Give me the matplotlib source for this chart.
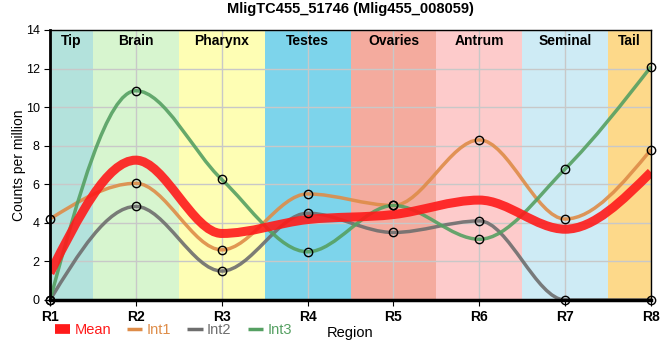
import numpy as np
import matplotlib
matplotlib.use("Agg")
import matplotlib.pyplot as plt
from matplotlib.path import Path
from matplotlib.patches import PathPatch
from matplotlib.lines import Line2D

plt.rcParams['font.family'] = ['Liberation Sans', 'DejaVu Sans']

# data
regions = ['R1', 'R2', 'R3', 'R4', 'R5', 'R6', 'R7', 'R8']
int1 = [4.2, 6.05, 2.6, 5.5, 4.9, 8.3, 4.2, 7.8]
int2 = [0.0, 4.85, 1.5, 4.5, 3.5, 4.1, 0.0, 0.0]
int3 = [0.0, 10.85, 6.25, 2.5, 4.9, 3.15, 6.8, 12.1]
mean = [1.4, 7.25, 3.45, 4.17, 4.43, 5.18, 3.67, 6.63]

band_names = ['Tip', 'Brain', 'Pharynx', 'Testes', 'Ovaries', 'Antrum', 'Seminal', 'Tail']
band_colors = ['#b3e2dc', '#d7f5cf', '#fefeb4', '#7dd4eb', '#f4ab9e', '#fdcbcb', '#ceebf5', '#fdd98a']


def monotone_path(x, y):
    # monotone cubic (Steffen) drawn as bezier segments
    x = np.asarray(x, float)
    y = np.asarray(y, float)
    n = len(x)
    h = np.diff(x)
    s = np.diff(y) / h
    t = np.zeros(n)
    for i in range(1, n - 1):
        p = (s[i - 1] * h[i] + s[i] * h[i - 1]) / (h[i - 1] + h[i])
        t[i] = (np.sign(s[i - 1]) + np.sign(s[i])) * min(abs(s[i - 1]), abs(s[i]), 0.5 * abs(p))
    t[0] = (3 * s[0] - t[1]) / 2 if n > 2 else s[0]
    t[-1] = (3 * s[-1] - t[-2]) / 2 if n > 2 else s[-1]
    verts = [(x[0], y[0])]
    codes = [Path.MOVETO]
    for i in range(n - 1):
        dx = h[i] / 3
        verts += [(x[i] + dx, y[i] + dx * t[i]), (x[i + 1] - dx, y[i + 1] - dx * t[i + 1]), (x[i + 1], y[i + 1])]
        codes += [Path.CURVE4] * 3
    return Path(verts, codes)


fig = plt.figure(figsize=(6.6, 3.6), dpi=100)
ax = fig.add_axes([0.0758, 0.1667, 0.9106, 0.75])
xs = np.arange(len(regions))

for i, (name, c) in enumerate(zip(band_names, band_colors)):
    lo = max(i - 0.5, 0)
    hi = min(i + 0.5, len(regions) - 1)
    ax.axvspan(lo, hi, color=c, zorder=0, lw=0)
    ax.text((lo + hi) / 2, 13.45, name, ha='center', va='center', fontsize=10, fontweight='bold', zorder=5)

ax.set_xlim(0, len(regions) - 1)
ax.set_ylim(0, 14)
ax.set_xticks(xs)
ax.set_xticklabels(regions, fontsize=10, fontweight='bold')
ax.set_yticks(np.arange(0, 15, 2))
ax.tick_params(axis='y', labelsize=9, length=4)
ax.tick_params(axis='x', length=4)
ax.grid(True, color='#c8c8c8', lw=1, zorder=1)
ax.set_axisbelow(False)
for sp in ax.spines.values():
    sp.set_linewidth(1)
    sp.set_zorder(6)
ax.spines['left'].set_linewidth(2)
ax.spines['bottom'].set_linewidth(2.5)

series = [(int1, '#de8c48', 'Int1'), (int2, '#6e6e6e', 'Int2'), (int3, '#55a062', 'Int3')]
for vals, c, lab in series:
    ax.add_patch(PathPatch(monotone_path(xs, vals), fill=False, edgecolor=c, lw=2.5, zorder=3, alpha=0.9))
ax.add_patch(PathPatch(monotone_path(xs, mean), fill=False, edgecolor='#ff1a1a', lw=6.5, zorder=4, alpha=0.9))
for vals, c, lab in series:
    ax.plot(xs, vals, ls='none', marker='o', ms=6, mfc='none', mec='black', mew=1, zorder=5, clip_on=False)

ax.set_title('MligTC455_51746 (Mlig455_008059)', fontsize=10.5, fontweight='bold', pad=12)
ax.set_ylabel('Counts per million', fontsize=10)
ax.yaxis.set_label_coords(-0.04, 0.5)
ax.set_xlabel('Region', fontsize=10.5)
ax.xaxis.set_label_coords(0.5, -0.095)

handles = [Line2D([], [], color='#ff1a1a', lw=7, solid_capstyle='butt'),
           Line2D([], [], color='#de8c48', lw=2.5, solid_capstyle='butt'),
           Line2D([], [], color='#6e6e6e', lw=2.5, solid_capstyle='butt'),
           Line2D([], [], color='#55a062', lw=2.5, solid_capstyle='butt')]
leg = fig.legend(handles, ['Mean', 'Int1', 'Int2', 'Int3'], loc='center left', bbox_to_anchor=(0.083, 0.083),
                 ncol=4, frameon=False, fontsize=10.5, handlelength=1.05, handletextpad=0.3, columnspacing=1.1,
                 borderpad=0, borderaxespad=0)
for txt, h in zip(leg.get_texts(), handles):
    txt.set_color(h.get_color())

fig.savefig('out.png', dpi=100)
